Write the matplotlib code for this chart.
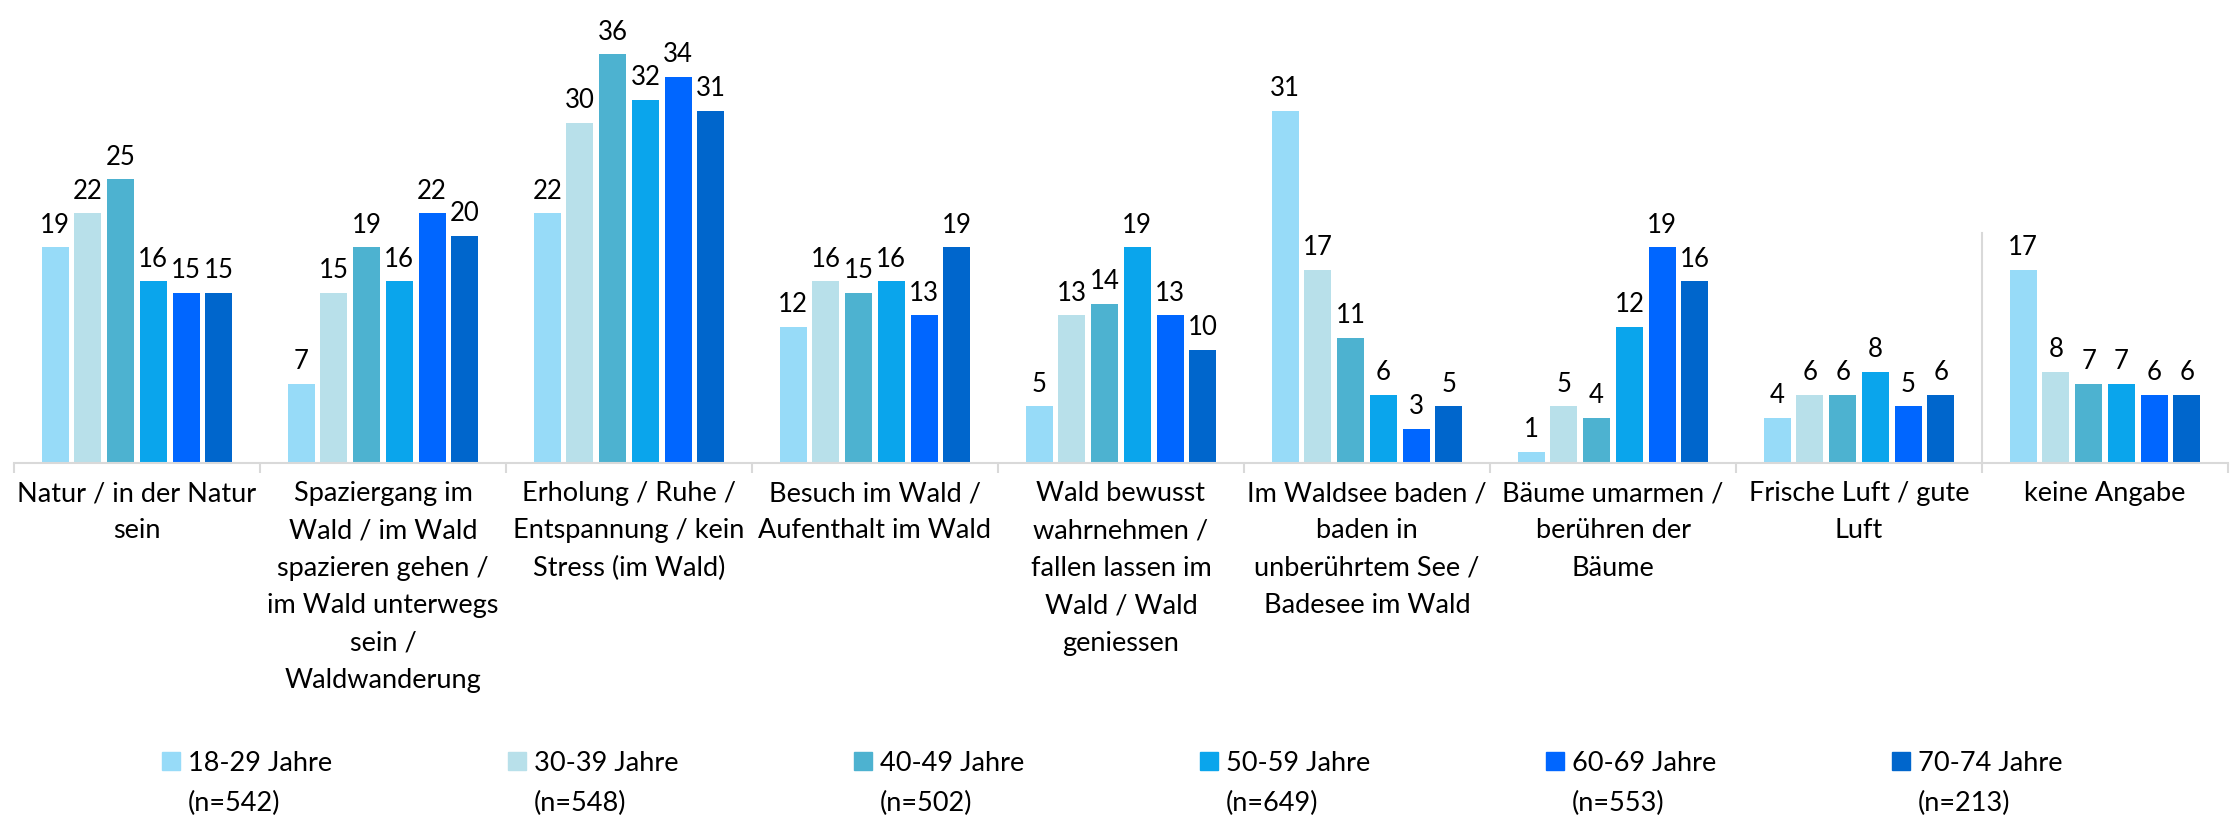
import matplotlib.pyplot as plt
from matplotlib.patches import Rectangle
import numpy as np

plt.rcParams['font.family'] = ['Lato', 'DejaVu Sans']

categories = [
    "Natur / in der Natur\nsein",
    "Spaziergang im\nWald / im Wald\nspazieren gehen /\nim Wald unterwegs\nsein /\nWaldwanderung",
    "Erholung / Ruhe /\nEntspannung / kein\nStress (im Wald)",
    "Besuch im Wald /\nAufenthalt im Wald",
    "Wald bewusst\nwahrnehmen /\nfallen lassen im\nWald / Wald\ngeniessen",
    "Im Waldsee baden /\nbaden in\nunberührtem See /\nBadesee im Wald",
    "Bäume umarmen /\nberühren der\nBäume",
    "Frische Luft / gute\nLuft",
    "keine Angabe",
]

age_groups = ["18-29 Jahre\n(n=542)", "30-39 Jahre\n(n=548)", "40-49 Jahre\n(n=502)",
              "50-59 Jahre\n(n=649)", "60-69 Jahre\n(n=553)", "70-74 Jahre\n(n=213)"]

v_18_29 = [19, 7, 22, 12, 5, 31, 1, 4, 17]
v_30_39 = [22, 15, 30, 16, 13, 17, 5, 6, 8]
v_40_49 = [25, 19, 36, 15, 14, 11, 4, 6, 7]
v_50_59 = [16, 16, 32, 16, 19, 6, 12, 8, 7]
v_60_69 = [15, 22, 34, 13, 13, 3, 19, 5, 6]
v_70_74 = [15, 20, 31, 19, 10, 5, 16, 6, 6]

series = [v_18_29, v_30_39, v_40_49, v_50_59, v_60_69, v_70_74]
colors = ['#97DBF8', '#B8E0EA', '#4DB2D0', '#0AA5EC', '#0066FF', '#0066CC']

W, H = 2234, 817
fig = plt.figure(figsize=(W / 100, H / 100), dpi=100)
ax = fig.add_axes([14 / W, 1 - 463 / H, (2228 - 14) / W, 463 / H])

x = np.arange(len(categories))
step = 0.133
width = 0.11
for i, vals in enumerate(series):
    bars = ax.bar(x + (i - 2.5) * step, vals, width, color=colors[i])
    ax.bar_label(bars, padding=7, fontsize=18.5, color='#000000')

ax.set_xlim(-0.5, len(categories) - 0.5)
ax.set_ylim(0, 40.8)
for s in ['top', 'right', 'left']:
    ax.spines[s].set_visible(False)
ax.spines['bottom'].set_color('#D9D9D9')
ax.spines['bottom'].set_linewidth(1.5)
ax.set_yticks([])

ax.set_xticks(np.arange(len(categories) + 1) - 0.5)
ax.set_xticklabels([])
ax.tick_params(axis='x', which='major', length=7.5, width=1.5, color='#D9D9D9')
ax.set_xticks(x, categories, minor=True)
ax.tick_params(axis='x', which='minor', length=0, pad=13)
for lab in ax.get_xticklabels(minor=True):
    lab.set_fontsize(19.5)
    lab.set_linespacing(1.62)
    lab.set_multialignment('center')

# separator before "keine Angabe"
ax.axvline(len(categories) - 1.5, ymin=0, ymax=0.497, color='#D9D9D9', lw=1.5)

# legend
for i, lab in enumerate(age_groups):
    x0 = 162 + i * 346
    fig.add_artist(Rectangle((x0 / W, 1 - 770 / H), 18 / W, 18 / H,
                             transform=fig.transFigure, color=colors[i]))
    fig.text((x0 + 26) / W, 1 - 751 / H, lab, fontsize=19.5, va='top',
             ha='left', linespacing=1.72)

fig.savefig('out.png', dpi=100)
